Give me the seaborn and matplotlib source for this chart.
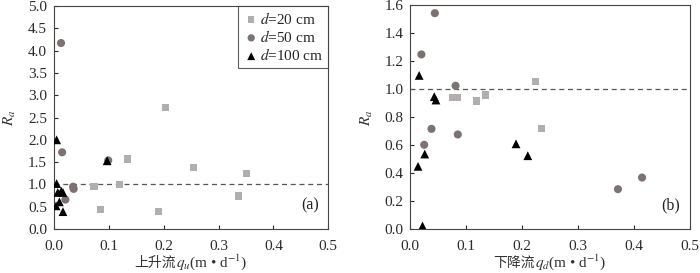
import numpy as np
import pandas as pd
import matplotlib
matplotlib.use("Agg")
import matplotlib.pyplot as plt
from matplotlib.offsetbox import TextArea, HPacker, AnchoredOffsetbox
import seaborn as sns

# (a) upward flow
up_q20 = [0.073, 0.085, 0.119, 0.134, 0.190, 0.204, 0.255, 0.336, 0.351]
up_r20 = [0.95, 0.43, 1.00, 1.57, 0.40, 2.72, 1.38, 0.74, 1.25]
up_q50 = [0.013, 0.015, 0.035, 0.036, 0.021, 0.099]
up_r50 = [4.17, 1.72, 0.95, 0.90, 0.66, 1.54]
up_q100 = [0.005, 0.005, 0.0135, 0.0165, 0.007, 0.010, 0.004, 0.0165, 0.097]
up_r100 = [2.00, 1.02, 0.85, 0.82, 0.82, 0.61, 0.52, 0.39, 1.53]

# (b) downward flow
dn_q20 = [0.075, 0.085, 0.119, 0.135, 0.224, 0.235]
dn_r20 = [0.943, 0.943, 0.917, 0.96, 1.055, 0.72]
dn_q50 = [0.044, 0.020, 0.081, 0.038, 0.025, 0.085, 0.371, 0.414]
dn_r50 = [1.545, 1.25, 1.026, 0.718, 0.604, 0.678, 0.287, 0.37]
dn_q100 = [0.016, 0.043, 0.046, 0.026, 0.014, 0.022, 0.189, 0.210]
dn_r100 = [1.10, 0.948, 0.924, 0.538, 0.45, 0.024, 0.611, 0.526]

labels = ['$d$=20 cm', '$d$=50 cm', '$d$=100 cm']
colors = ['#b3aeae', '#7d7272', '#000000']
markers = ['s', 'o', '^']
sizes = [26, 34, 40]

sns.set_style("ticks")
plt.rcParams['font.family'] = ['Liberation Serif', 'Noto Sans CJK SC']
plt.rcParams['mathtext.fontset'] = 'stix'
plt.rcParams['axes.linewidth'] = 0.8


def make_df(qs, rs):
    frames = []
    for q, r, lab in zip(qs, rs, labels):
        frames.append(pd.DataFrame({'q': q, 'R': r, 'depth': lab}))
    return pd.concat(frames, ignore_index=True)


df_up = make_df([up_q20, up_q50, up_q100], [up_r20, up_r50, up_r100])
df_dn = make_df([dn_q20, dn_q50, dn_q100], [dn_r20, dn_r50, dn_r100])

fig = plt.figure(figsize=(7, 2.73), dpi=100)
ax1 = fig.add_axes([0.077, 0.161, 0.392, 0.817])
ax2 = fig.add_axes([0.586, 0.160, 0.400, 0.820])


def draw(ax, df, ymax, ystep, tag, cn, sym, legend):
    for lab, c, m, s in zip(labels, colors, markers, sizes):
        sub = df[df['depth'] == lab]
        sns.scatterplot(x='q', y='R', data=sub, ax=ax, color=c, marker=m,
                        s=s, edgecolor='none', linewidth=0, label=lab,
                        legend=legend, zorder=3)
    ax.axhline(1.0, color='#555555', linestyle=(0, (4, 3)), linewidth=0.9,
               zorder=2)
    ax.set_xlim(0, 0.5)
    ax.set_ylim(0, ymax)
    ax.set_xticks(np.arange(0, 0.51, 0.1))
    ax.set_yticks(np.arange(0, ymax + 1e-6, ystep))
    ax.xaxis.set_major_formatter(matplotlib.ticker.FormatStrFormatter('%.1f'))
    ax.yaxis.set_major_formatter(matplotlib.ticker.FormatStrFormatter('%.1f'))
    ax.tick_params(direction='in', length=3, width=0.8, labelsize=11,
                   colors='#2a2a2a')
    ax.tick_params(axis='x', pad=8)
    ax.tick_params(axis='y', pad=5)
    for sp in ax.spines.values():
        sp.set_color('#4a4440')
    ax.set_xlabel('')
    ax.set_ylabel('$R_a$', fontsize=11, color='#333333', labelpad=7)
    ax.text(0.965, 0.07, tag, transform=ax.transAxes, ha='right',
            va='bottom', fontsize=11.5, color='#222222')

    # x label: Chinese part and math part packed side by side
    t1 = TextArea(cn, textprops=dict(family='Noto Sans CJK SC', fontsize=10,
                                      color='#333333'))
    t2 = TextArea(sym + '(m • d$^{-1}$)',
                  textprops=dict(family='Liberation Serif', fontsize=11,
                                 color='#333333'))
    box = HPacker(children=[t1, t2], align='baseline', pad=0, sep=0)
    anc = AnchoredOffsetbox(loc='lower center', child=box, pad=0,
                            borderpad=0, frameon=False,
                            bbox_to_anchor=(0.5, 0.004),
                            bbox_transform=fig.transFigure)
    ax.add_artist(anc)


draw(ax1, df_up, 5.0, 0.5, '(a)', '上升流', '$q_u$', True)
draw(ax2, df_dn, 1.6, 0.2, '(b)', '下降流', '$q_d$', False)

# keep the packed labels centred under each axes
for ax, anc in zip([ax1, ax2], [ax1.artists[-1], ax2.artists[-1]]):
    pos = ax.get_position()
    anc.set_bbox_to_anchor((pos.x0 + pos.width / 2, 0.004),
                           transform=fig.transFigure)

leg = ax1.legend(loc='upper right', borderaxespad=0, frameon=True,
                 fancybox=False, edgecolor='#333333', fontsize=11,
                 handletextpad=0.05, borderpad=0.3, labelspacing=0.15,
                 handlelength=1.1, markerscale=0.9)
leg.get_frame().set_linewidth(0.8)

plt.savefig('out.png', dpi=100)
